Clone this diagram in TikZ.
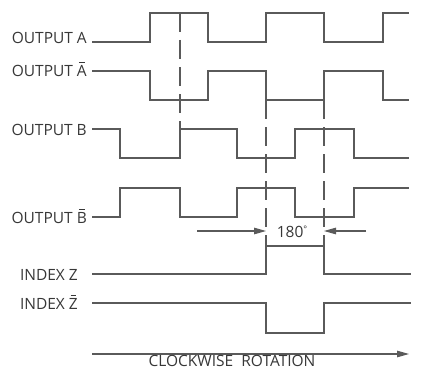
\documentclass[tikz,border=0pt]{standalone}
\usepackage{fontspec}
\setmainfont{Open Sans}
\usetikzlibrary{arrows.meta}
\definecolor{sig}{RGB}{90,90,90}
\definecolor{txt}{RGB}{55,55,55}
\newcommand\myovl[1]{\setbox0\hbox{#1}\rlap{\hbox to\wd0{\hfil\raisebox{\dimexpr\ht0+2.6pt\relax}{\rule{0.6\wd0}{0.7pt}}\hfil}}\box0}
\begin{document}
\begin{tikzpicture}[x=1pt,y=-1pt,
  signal/.style={draw=sig,line width=1.05pt},
  guide/.style={draw=sig,line width=1.05pt,dash pattern=on 19pt off 8pt},
  lbl/.style={text=txt,font=\fontsize{15.5}{18}\selectfont,inner sep=0pt,anchor=base east},
  dimarrow/.style={draw=sig,line width=1.05pt,-{Triangle[length=12pt,width=6.5pt]}}]
\useasboundingbox (0,0) rectangle (444,369);
% labels
\node[lbl] (la) at (87,44) {OUTPUT A};
\node[lbl] (lab) at (87,76.5) {OUTPUT \myovl{A}};
\node[lbl] (lb) at (87,135) {OUTPUT B};
\node[lbl] (lbb) at (87,223) {OUTPUT \myovl{B}};
\node[lbl] (lz) at (78,280.5) {INDEX Z};
\node[lbl] (lzb) at (78,309.5) {INDEX \myovl{Z}};
% signals
\draw[signal] (92,42)--(150,42)--(150,13)--(208,13)--(208,42)--(266,42)--(266,13)--(324,13)--(324,42)--(383,42)--(383,13)--(409,13);
\draw[signal] (92,71)--(150,71)--(150,100)--(208,100)--(208,71)--(266,71)--(266,100)--(324,100)--(324,71)--(383,71)--(383,100)--(409,100);
\draw[signal] (92,129)--(120,129)--(120,158)--(180,158)--(180,129)--(237,129)--(237,158)--(295,158)--(295,129)--(354,129)--(354,158)--(409,158);
\draw[signal] (92,217)--(120,217)--(120,188)--(180,188)--(180,217)--(237,217)--(237,188)--(295,188)--(295,217)--(354,217)--(354,188)--(409,188);
\draw[signal] (92,274)--(266,274)--(266,246)--(324,246)--(324,274)--(411,274);
\draw[signal] (92,303)--(266,303)--(266,333)--(324,333)--(324,303)--(411,303);
% dashed guides
\draw[guide] (180,13)--(180,129);
\draw[guide] (266,100)--(266,246);
\draw[guide] (324,100)--(324,246);
% 180 degree dimension
\coordinate (d1s) at (197,231);
\coordinate (d1e) at (266,231);
\coordinate (d2s) at (366,231);
\coordinate (d2e) at (324,231);
\draw[dimarrow] (d1s)--(d1e);
\draw[dimarrow] (d2s)--(d2e);
\node[text=txt,font=\fontsize{15.5}{18}\selectfont,inner sep=0pt,anchor=base] (deg) at (292,237) {180\raisebox{0.5ex}{\fontsize{9}{10}\selectfont\textdegree}};
% rotation arrow
\coordinate (rs) at (92,354);
\coordinate (re) at (409,354);
\draw[dimarrow] (rs)--(re);
\node[text=txt,font=\fontsize{15.5}{18}\selectfont,inner sep=0pt,anchor=base] (rot) at (232,366.5) {CLOCKWISE\ \ ROTATION};
\end{tikzpicture}
\end{document}
